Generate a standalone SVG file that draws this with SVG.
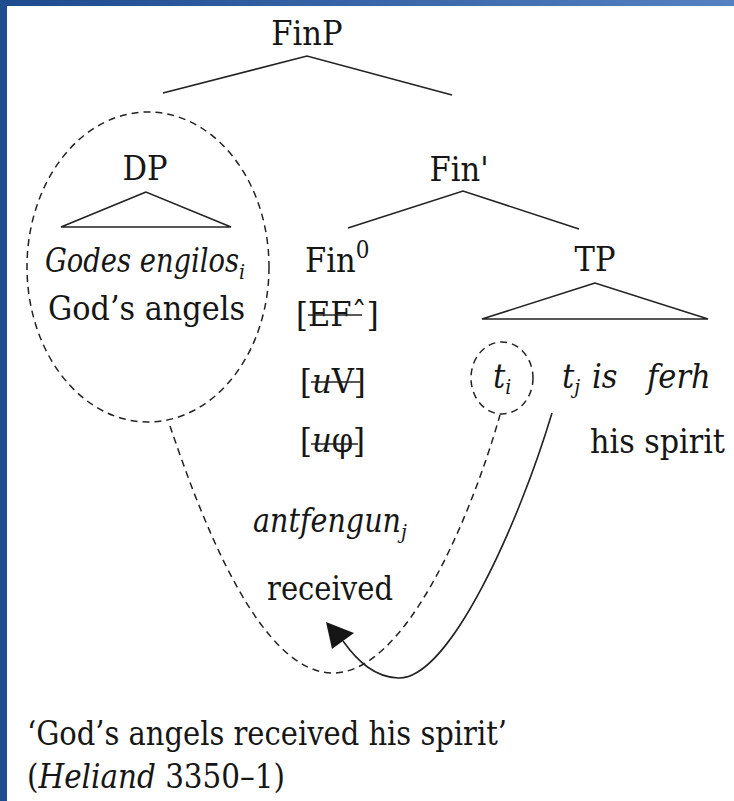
<svg xmlns="http://www.w3.org/2000/svg" width="734" height="801" viewBox="0 0 734 801">
<defs>
<linearGradient id="topbar" x1="0" y1="0" x2="1" y2="0">
<stop offset="0" stop-color="#1c4a8c"/>
<stop offset="1" stop-color="#5580c2"/>
</linearGradient>
<style>
.lab{font-size:34px;fill:#161616;}
.it{font-style:italic;}
.sub{font-size:21px;font-style:italic;}
.edge{stroke:#222;stroke-width:1.6;fill:none;}
.dash{stroke:#222;stroke-width:1.5;fill:none;stroke-dasharray:7 5;}
.strike{stroke:#222;stroke-width:1.5;}
</style>
</defs>
<rect x="0" y="0" width="734" height="801" fill="#ffffff"/>
<rect x="0" y="0" width="734" height="6" fill="url(#topbar)"/>
<rect x="0" y="0" width="7" height="801" fill="#1f4e90"/>

<g id="connectors">
<polyline class="edge" points="163,93 307,56 452,95"/>
<polygon class="edge" points="146,192 61,227 231,227"/>
<polyline class="edge" points="348,228 463,191 579,229"/>
<polygon class="edge" points="595,283 482,319 708,319"/>
<path class="dash" d="M 170 426 C 205 530 262 673 333 673 C 405 673 470 520 500 415"/>
<path class="edge" d="M 552 413 C 520 520 450 680 398 678 C 375 677 358 662 343 641"/>
<polygon points="326,622 332,649 354,633" fill="#161616"/>
</g>

<g font-family="'DejaVu Serif Condensed', 'DejaVu Serif', serif" font-stretch="condensed">
<g id="n-finp"><text class="lab" x="307" y="45" text-anchor="middle">FinP</text></g>

<g id="n-dp">
<ellipse class="dash" cx="148" cy="267" rx="121" ry="155"/>
<text class="lab" x="145" y="180" text-anchor="middle">DP</text>
<text class="lab it" x="45" y="272"><tspan textLength="194" lengthAdjust="spacingAndGlyphs">Godes engilos</tspan><tspan class="sub" dy="7">i</tspan></text>
<text class="lab" x="48" y="320" textLength="197" lengthAdjust="spacingAndGlyphs">God’s angels</text>
</g>

<g id="n-finbar"><text class="lab" x="459" y="181" text-anchor="middle">Fin'</text></g>

<g id="n-fin0">
<text class="lab" x="305" y="272">Fin<tspan font-size="24" dy="-14">0</tspan></text>
<text class="lab" x="296" y="326">[EFˆ]</text>
<line class="strike" x1="308" y1="315" x2="362" y2="315"/>
<text class="lab" x="300" y="393">[<tspan class="it">u</tspan>V]</text>
<line class="strike" x1="311" y1="382" x2="360" y2="382"/>
<text class="lab" x="300" y="452">[<tspan class="it">u</tspan>φ]</text>
<line class="strike" x1="311" y1="444" x2="358" y2="444"/>
</g>

<g id="n-tp">
<text class="lab" x="595" y="271" text-anchor="middle">TP</text>
<ellipse class="dash" cx="502" cy="378" rx="31" ry="36"/>
<text class="lab it" x="493" y="388">t<tspan class="sub" dy="6">i</tspan></text>
<text class="lab it" x="562" y="388">t<tspan class="sub" dy="6">j</tspan></text>
<text class="lab it" x="592" y="388">is</text>
<text class="lab it" x="647" y="388">ferh</text>
<text class="lab" x="590" y="453" textLength="135" lengthAdjust="spacingAndGlyphs">his spirit</text>
</g>

<g id="n-verb">
<text class="lab it" x="253" y="532"><tspan textLength="148" lengthAdjust="spacingAndGlyphs">antfengun</tspan><tspan class="sub" dy="7">j</tspan></text>
<text class="lab" x="267" y="600" textLength="126" lengthAdjust="spacingAndGlyphs">received</text>
</g>

<g id="gloss">
<text class="lab" x="27" y="745" textLength="480" lengthAdjust="spacingAndGlyphs">‘God’s angels received his spirit’</text>
<text class="lab" x="27" y="788" textLength="258" lengthAdjust="spacingAndGlyphs">(<tspan class="it">Heliand</tspan> 3350–1)</text>
</g>
</g>
</svg>
